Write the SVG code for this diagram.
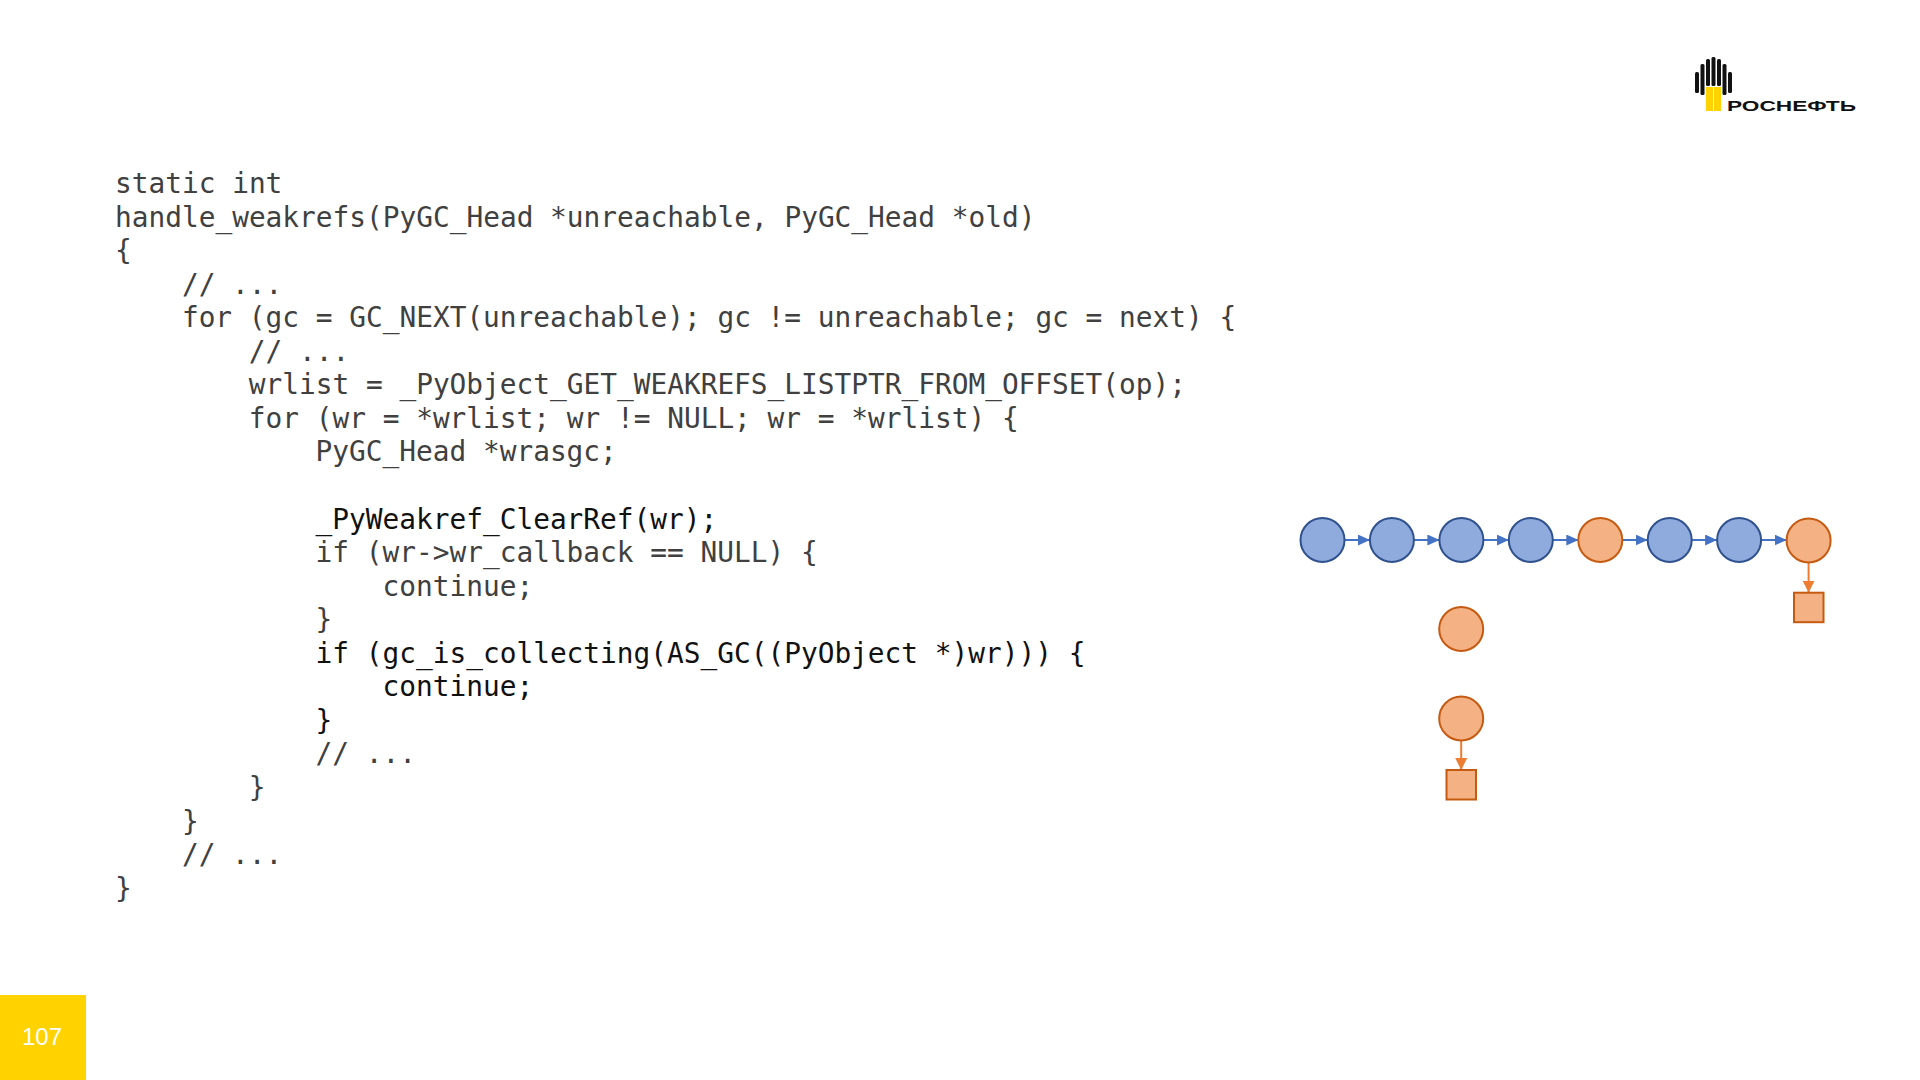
<svg xmlns="http://www.w3.org/2000/svg" width="1920" height="1080" viewBox="0 0 1920 1080">
  <style>
    .code { font-family: "DejaVu Sans Mono", "Liberation Mono", monospace; font-size: 27.8px; fill: #404040; }
    .dark { fill: #111111; }
    .blue { fill: #8FAADC; stroke: #2F528F; stroke-width: 2; }
    .orange { fill: #F4B183; stroke: #C55A11; stroke-width: 2; }
    .barrow { stroke: #4472C4; stroke-width: 2; fill: none; }
    .oarrow { stroke: #ED7D31; stroke-width: 2; fill: none; }
    .bar { fill: #111111; }
  </style>
  <defs>
    <marker id="ab" markerUnits="userSpaceOnUse" markerWidth="12" markerHeight="11" refX="12" refY="5.5" orient="auto">
      <path d="M0,0 L12,5.5 L0,11 z" fill="#4472C4"/>
    </marker>
    <marker id="ao" markerUnits="userSpaceOnUse" markerWidth="12" markerHeight="12" refX="12" refY="6" orient="auto">
      <path d="M0,0 L12,6 L0,12 z" fill="#ED7D31"/>
    </marker>
  </defs>
  <rect x="0" y="0" width="1920" height="1080" fill="#FFFFFF"/>

  <g id="logo">
    <rect class="bar" x="1695" y="72" width="4" height="21" rx="1.5"/>
    <rect class="bar" x="1700.5" y="64" width="4" height="31" rx="1.5"/>
    <rect class="bar" x="1706" y="59" width="4" height="27" rx="1.5"/>
    <rect class="bar" x="1711.5" y="57" width="4" height="29" rx="1.5"/>
    <rect class="bar" x="1717" y="59" width="4" height="27" rx="1.5"/>
    <rect class="bar" x="1722.5" y="64" width="4" height="31" rx="1.5"/>
    <rect class="bar" x="1728" y="72" width="4" height="21" rx="1.5"/>
    <rect x="1706" y="87" width="7" height="24" fill="#FFD200"/>
    <rect x="1714" y="87" width="7" height="24" fill="#FFD200"/>
    <text x="1727" y="111" font-family="Liberation Sans, Arial, sans-serif" font-size="15" font-weight="bold" fill="#111" textLength="129" lengthAdjust="spacingAndGlyphs">РОСНЕФТЬ</text>
  </g>

  <g id="code">
    <text class="code" x="115" y="193">static int</text>
    <text class="code" x="115" y="226.6">handle_weakrefs(PyGC_Head *unreachable, PyGC_Head *old)</text>
    <text class="code" x="115" y="260.1">{</text>
    <text class="code" x="181.9" y="293.7">// ...</text>
    <text class="code" x="181.9" y="327.2">for (gc = GC_NEXT(unreachable); gc != unreachable; gc = next) {</text>
    <text class="code" x="248.8" y="360.8">// ...</text>
    <text class="code" x="248.8" y="394.3">wrlist = _PyObject_GET_WEAKREFS_LISTPTR_FROM_OFFSET(op);</text>
    <text class="code" x="248.8" y="427.9">for (wr = *wrlist; wr != NULL; wr = *wrlist) {</text>
    <text class="code" x="315.6" y="461.4">PyGC_Head *wrasgc;</text>
    <text class="code dark" x="315.6" y="528.5">_PyWeakref_ClearRef(wr);</text>
    <text class="code" x="315.6" y="562.1">if (wr-&gt;wr_callback == NULL) {</text>
    <text class="code" x="382.5" y="595.6">continue;</text>
    <text class="code" x="315.6" y="629.2">}</text>
    <text class="code dark" x="315.6" y="662.7">if (gc_is_collecting(AS_GC((PyObject *)wr))) {</text>
    <text class="code dark" x="382.5" y="696.3">continue;</text>
    <text class="code dark" x="315.6" y="729.8">}</text>
    <text class="code" x="315.6" y="763.4">// ...</text>
    <text class="code" x="248.8" y="796.9">}</text>
    <text class="code" x="181.9" y="830.5">}</text>
    <text class="code" x="181.9" y="864">// ...</text>
    <text class="code" x="115" y="897.6">}</text>
  </g>

  <g id="connectors">
    <line class="barrow" x1="1344.5" y1="540" x2="1369.9" y2="540" marker-end="url(#ab)"/>
    <line class="barrow" x1="1413.9" y1="540" x2="1439.4" y2="540" marker-end="url(#ab)"/>
    <line class="barrow" x1="1483.4" y1="540" x2="1508.8" y2="540" marker-end="url(#ab)"/>
    <line class="barrow" x1="1552.8" y1="540" x2="1578.3" y2="540" marker-end="url(#ab)"/>
    <line class="barrow" x1="1622.3" y1="540" x2="1647.7" y2="540" marker-end="url(#ab)"/>
    <line class="barrow" x1="1691.7" y1="540" x2="1717.1" y2="540" marker-end="url(#ab)"/>
    <line class="barrow" x1="1761.1" y1="540" x2="1786.6" y2="540" marker-end="url(#ab)"/>
    <line class="oarrow" x1="1808.6" y1="563" x2="1808.6" y2="592.7" marker-end="url(#ao)"/>
    <line class="oarrow" x1="1461.2" y1="741" x2="1461.2" y2="770" marker-end="url(#ao)"/>
  </g>

  <g id="n1"><circle class="blue" cx="1322.5" cy="540" r="22"/></g>
  <g id="n2"><circle class="blue" cx="1391.9" cy="540" r="22"/></g>
  <g id="n3"><circle class="blue" cx="1461.4" cy="540" r="22"/></g>
  <g id="n4"><circle class="blue" cx="1530.8" cy="540" r="22"/></g>
  <g id="n5"><circle class="orange" cx="1600.3" cy="540" r="22"/></g>
  <g id="n6"><circle class="blue" cx="1669.7" cy="540" r="22"/></g>
  <g id="n7"><circle class="blue" cx="1739.1" cy="540" r="22"/></g>
  <g id="n8"><circle class="orange" cx="1808.6" cy="540.5" r="22"/></g>
  <g id="sq1"><rect class="orange" x="1794" y="592.7" width="29.5" height="29.5"/></g>
  <g id="n9"><circle class="orange" cx="1461.2" cy="629" r="22"/></g>
  <g id="n10"><circle class="orange" cx="1461.2" cy="718.5" r="22"/></g>
  <g id="sq2"><rect class="orange" x="1446.5" y="770" width="29.5" height="29.5"/></g>

  <g id="page-number">
    <rect x="0" y="995" width="86" height="85" fill="#FFD200"/>
    <text x="42" y="1045" text-anchor="middle" font-family="Liberation Sans, Arial, sans-serif" font-size="24" fill="#FFFFFF">107</text>
  </g>
</svg>
